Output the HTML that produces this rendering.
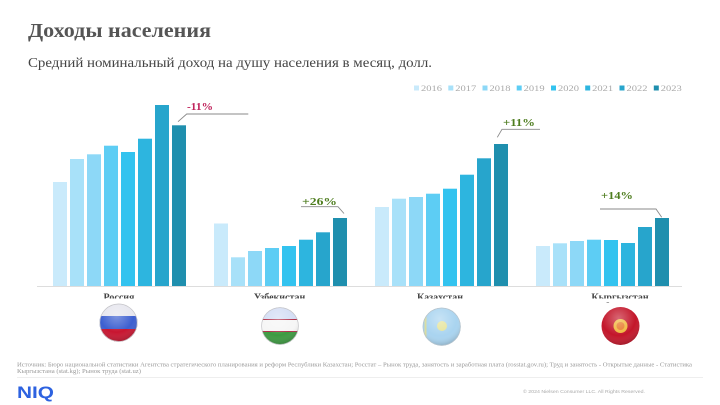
<!DOCTYPE html>
<html><head><meta charset="utf-8"><style>
html,body{margin:0;padding:0;background:#fff;}
svg{display:block;}
</style></head><body>
<svg width="720" height="405" viewBox="0 0 720 405" xmlns="http://www.w3.org/2000/svg">
<defs>
<radialGradient id="gloss" cx="0.45" cy="0.3" r="0.75">
<stop offset="0" stop-color="#fff" stop-opacity="0.35"/>
<stop offset="0.6" stop-color="#fff" stop-opacity="0"/>
<stop offset="1" stop-color="#000" stop-opacity="0.25"/>
</radialGradient>
<clipPath id="cR"><circle cx="118.5" cy="322.7" r="19"/></clipPath>
<clipPath id="cU"><circle cx="280" cy="326" r="18.7"/></clipPath>
<clipPath id="cK"><circle cx="441.7" cy="326.7" r="19"/></clipPath>
<clipPath id="cG"><circle cx="620.5" cy="326" r="19"/></clipPath>
</defs>
<rect width="720" height="405" fill="#fff"/>

<text x="28" y="37" font-family="Liberation Serif, serif" font-weight="bold" font-size="19.5" fill="#555" textLength="183" lengthAdjust="spacingAndGlyphs">Доходы населения</text>
<text x="28" y="67" font-family="Liberation Serif, serif" font-size="13.5" fill="#444" textLength="404" lengthAdjust="spacingAndGlyphs">Средний номинальный доход на душу населения в месяц, долл.</text>

<!-- legend -->
<g font-family="Liberation Serif, serif" font-size="8.5" fill="#aaa">
<rect x="414" y="85.5" width="5" height="5" fill="#c9eafb"/><text x="421" y="91" textLength="21" lengthAdjust="spacingAndGlyphs">2016</text>
<rect x="448.3" y="85.5" width="5" height="5" fill="#a8e1f9"/><text x="455.3" y="91" textLength="21" lengthAdjust="spacingAndGlyphs">2017</text>
<rect x="482.5" y="85.5" width="5" height="5" fill="#8dd8f7"/><text x="489.5" y="91" textLength="21" lengthAdjust="spacingAndGlyphs">2018</text>
<rect x="516.7" y="85.5" width="5" height="5" fill="#5dcdf4"/><text x="523.7" y="91" textLength="21" lengthAdjust="spacingAndGlyphs">2019</text>
<rect x="551" y="85.5" width="5" height="5" fill="#33c3ef"/><text x="558" y="91" textLength="21" lengthAdjust="spacingAndGlyphs">2020</text>
<rect x="585.2" y="85.5" width="5" height="5" fill="#2db5df"/><text x="592.2" y="91" textLength="21" lengthAdjust="spacingAndGlyphs">2021</text>
<rect x="619.5" y="85.5" width="5" height="5" fill="#27a5cc"/><text x="626.5" y="91" textLength="21" lengthAdjust="spacingAndGlyphs">2022</text>
<rect x="653.8" y="85.5" width="5" height="5" fill="#1f8fae"/><text x="660.8" y="91" textLength="21" lengthAdjust="spacingAndGlyphs">2023</text>
</g>

<!-- bars: Russia -->
<g>
<rect x="53" y="182" width="14" height="104" fill="#c9eafb"/>
<rect x="70" y="159" width="14" height="127" fill="#a8e1f9"/>
<rect x="87" y="154.3" width="14" height="131.7" fill="#8dd8f7"/>
<rect x="104" y="145.7" width="14" height="140.3" fill="#5dcdf4"/>
<rect x="121" y="152" width="14" height="134" fill="#33c3ef"/>
<rect x="138" y="138.7" width="14" height="147.3" fill="#2db5df"/>
<rect x="155" y="105" width="14" height="181" fill="#27a5cc"/>
<rect x="172" y="125.3" width="14" height="160.7" fill="#1f8fae"/>
</g>
<!-- Uzbekistan -->
<g>
<rect x="214" y="223.5" width="14" height="62.5" fill="#c9eafb"/>
<rect x="231" y="257.3" width="14" height="28.7" fill="#a8e1f9"/>
<rect x="248" y="251" width="14" height="35" fill="#8dd8f7"/>
<rect x="265" y="248" width="14" height="38" fill="#5dcdf4"/>
<rect x="282" y="246" width="14" height="40" fill="#33c3ef"/>
<rect x="299" y="239.7" width="14" height="46.3" fill="#2db5df"/>
<rect x="316" y="232.3" width="14" height="53.7" fill="#27a5cc"/>
<rect x="333" y="218" width="14" height="68" fill="#1f8fae"/>
</g>
<!-- Kazakhstan -->
<g>
<rect x="375" y="207" width="14" height="79" fill="#c9eafb"/>
<rect x="392" y="198.7" width="14" height="87.3" fill="#a8e1f9"/>
<rect x="409" y="197" width="14" height="89" fill="#8dd8f7"/>
<rect x="426" y="193.7" width="14" height="92.3" fill="#5dcdf4"/>
<rect x="443" y="188.7" width="14" height="97.3" fill="#33c3ef"/>
<rect x="460" y="174.7" width="14" height="111.3" fill="#2db5df"/>
<rect x="477" y="158.3" width="14" height="127.7" fill="#27a5cc"/>
<rect x="494" y="144" width="14" height="142" fill="#1f8fae"/>
</g>
<!-- Kyrgyzstan -->
<g>
<rect x="536" y="246" width="14" height="40" fill="#c9eafb"/>
<rect x="553" y="243.3" width="14" height="42.7" fill="#a8e1f9"/>
<rect x="570" y="241" width="14" height="45" fill="#8dd8f7"/>
<rect x="587" y="239.7" width="14" height="46.3" fill="#5dcdf4"/>
<rect x="604" y="240" width="14" height="46" fill="#33c3ef"/>
<rect x="621" y="243" width="14" height="43" fill="#2db5df"/>
<rect x="638" y="227" width="14" height="59" fill="#27a5cc"/>
<rect x="655" y="218" width="14" height="68" fill="#1f8fae"/>
</g>

<line x1="37" y1="286.5" x2="682" y2="286.5" stroke="#ddd" stroke-width="1"/>

<!-- leaders -->
<g fill="none" stroke="#8a8a8a" stroke-width="0.9">
<polyline points="178,121.7 186.7,114 248.3,114"/>
<polyline points="301,206.7 338,206.7 344,213.5"/>
<polyline points="497.3,137.3 502,129.3 540,129.3"/>
<polyline points="600,209 656,209 661.7,217.3"/>
</g>
<g font-family="Liberation Serif, serif" font-weight="bold" font-size="11">
<text x="187" y="110" fill="#c0245c" textLength="26" lengthAdjust="spacingAndGlyphs">-11%</text>
<text x="302" y="205" fill="#4e7d1f" textLength="35" lengthAdjust="spacingAndGlyphs">+26%</text>
<text x="503" y="126" fill="#4e7d1f" textLength="32" lengthAdjust="spacingAndGlyphs">+11%</text>
<text x="601" y="199" fill="#4e7d1f" textLength="32" lengthAdjust="spacingAndGlyphs">+14%</text>
</g>

<!-- country labels -->
<g font-family="Liberation Serif, serif" font-weight="bold" font-size="10" fill="#444" text-anchor="middle">
<text x="119" y="300.5">Россия</text>
<text x="279.5" y="300.5">Узбекистан</text>
<text x="440" y="300.5">Казахстан</text>
<text x="620" y="300.5">Кыргызстан</text>
</g>
<rect x="0" y="298.5" width="720" height="4" fill="#fff"/>

<!-- flags -->
<g clip-path="url(#cR)">
<rect x="99" y="303" width="40" height="13" fill="#e6e6ee"/>
<rect x="99" y="316" width="40" height="13" fill="#3c5fd0"/>
<rect x="99" y="329" width="40" height="14" fill="#c81530"/>
<circle cx="118.5" cy="322.7" r="19" fill="url(#gloss)"/>
</g>
<circle cx="118.5" cy="322.7" r="18.7" fill="none" stroke="#c4c4c8" stroke-width="0.7"/>
<g clip-path="url(#cU)">
<rect x="260" y="307" width="40" height="12" fill="#d3ddf4"/>
<rect x="260" y="319" width="40" height="1" fill="#b0304a"/>
<rect x="260" y="320" width="40" height="11" fill="#f6f6f6"/>
<rect x="260" y="331" width="40" height="1" fill="#b0304a"/>
<rect x="260" y="332" width="40" height="14" fill="#3c9a40"/>
<circle cx="280" cy="326" r="18.7" fill="url(#gloss)"/>
</g>
<circle cx="280" cy="326" r="18.4" fill="none" stroke="#c4c4c8" stroke-width="0.7"/>
<g clip-path="url(#cK)">
<rect x="422" y="307" width="40" height="40" fill="#a9d4f0"/>
<rect x="424.5" y="308" width="2" height="38" fill="#d9dca0"/>
<circle cx="442" cy="326" r="5" fill="#e5e49a"/>
<circle cx="441.7" cy="326.7" r="19" fill="url(#gloss)"/>
</g>
<circle cx="441.7" cy="326.7" r="18.7" fill="none" stroke="#b8c4cc" stroke-width="0.7"/>
<g clip-path="url(#cG)">
<rect x="601" y="307" width="40" height="40" fill="#c3162a"/>
<circle cx="620.5" cy="326" r="7" fill="#f0b63a"/>
<circle cx="620.5" cy="326" r="4" fill="#e8792a"/>
<circle cx="620.5" cy="326" r="19" fill="url(#gloss)"/>
</g>

<!-- source -->
<g font-family="Liberation Serif, serif" font-size="6.2" fill="#9a9a9a">
<text x="17" y="366.5" textLength="675" lengthAdjust="spacingAndGlyphs">Источник: Бюро национальной статистики Агентства стратегического планирования и реформ Республики Казахстан; Росстат  – Рынок труда, занятость и заработная плата (rosstat.gov.ru); Труд и занятость - Открытые данные - Статистика</text>
<text x="17" y="373" textLength="124" lengthAdjust="spacingAndGlyphs">Кыргызстана (stat.kg); Рынок труда (stat.uz)</text>
</g>
<line x1="17" y1="377.5" x2="703" y2="377.5" stroke="#eee" stroke-width="1"/>

<text x="17" y="398" font-family="Liberation Sans, sans-serif" font-weight="bold" font-size="17" fill="#2d62e0" textLength="37" lengthAdjust="spacingAndGlyphs">NIQ</text>
<text x="523" y="393" font-family="Liberation Sans, sans-serif" font-size="4.5" fill="#aaa" textLength="122" lengthAdjust="spacingAndGlyphs">© 2024 Nielsen Consumer LLC. All Rights Reserved.</text>
</svg>
</body></html>
